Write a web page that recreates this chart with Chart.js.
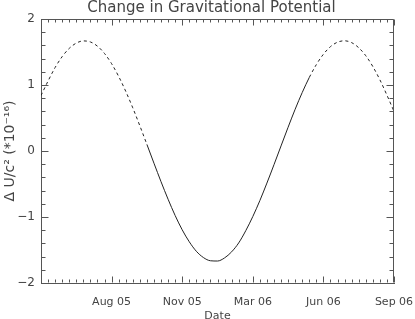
<!DOCTYPE html>
<html><head><meta charset="utf-8">
<script src="https://cdn.jsdelivr.net/npm/chart.js@4/dist/chart.umd.min.js"></script>
<style>html,body{margin:0;padding:0;background:#fff}#wrap{width:415px;height:319px}</style>
</head><body><div id="wrap"><canvas id="c" width="415" height="319"></canvas></div>
<script>
// Days since start of plotted interval
const days = [0,10,20,30,40,50,60,70,80,90,100,110,120,130,140,150,160,170,180,190,200,210,220,230,240,250,260,270,280,290,300,310,320,330,340,350,360,370,380,390,400,410,420,430,440,450,460,470,480,490,500];
// Delta U / c^2 in units of 1e-16
const potential = [0.84,1.06,1.265,1.43,1.555,1.635,1.668,1.652,1.588,1.477,1.323,1.13,0.905,0.654,0.382,0.10,-0.185,-0.465,-0.731,-0.977,-1.194,-1.375,-1.519,-1.614,-1.663,-1.667,-1.62,-1.528,-1.393,-1.208,-0.993,-0.751,-0.486,-0.208,0.077,0.36,0.633,0.886,1.114,1.309,1.466,1.581,1.649,1.67,1.642,1.565,1.444,1.28,1.079,0.846,0.60];
const tickDays = [100,200,300,400,500];
const tickLabels = ['Aug 05','Nov 05','Mar 06','Jun 06','Sep 06'];
const yTicks = [-2,-1,0,1,2];
const solidFrom = 150, solidTo = 380;

const axisColor = '#555';
const textColor = '#444';
const FONT = 'DejaVu Sans';

const inwardTicks = {
  id: 'inwardTicks',
  afterDraw(chart) {
    const {ctx, chartArea: a, scales: {x, y}} = chart;
    ctx.save();
    ctx.strokeStyle = axisColor;
    ctx.lineWidth = 1;
    ctx.beginPath();
    const L = Math.round(a.left) + 0.5, R = Math.round(a.right) - 0.5;
    const T = Math.round(a.top) + 0.5, B = Math.round(a.bottom) - 0.5;
    ctx.moveTo(L, T); ctx.lineTo(R, T); ctx.lineTo(R, B);
    const nx = Math.round((x.max - x.min) / 10);
    for (let i = 0; i <= nx; i++) {
      const v = x.min + i * 10;
      const px = Math.round(x.getPixelForValue(v)) + 0.5;
      const len = (i % 10 === 0) ? 6 : 3;
      ctx.moveTo(px, B); ctx.lineTo(px, B - len);
      ctx.moveTo(px, T); ctx.lineTo(px, T + len);
    }
    const ny = Math.round((y.max - y.min) / 0.2);
    for (let i = 0; i <= ny; i++) {
      const v = y.min + i * 0.2;
      const py = Math.round(y.getPixelForValue(v)) + 0.5;
      const len = (i % 5 === 0) ? 7 : 4;
      ctx.moveTo(L, py); ctx.lineTo(L + len, py);
      ctx.moveTo(R, py); ctx.lineTo(R - len, py);
    }
    ctx.stroke();
    ctx.restore();
  }
};

new Chart(document.getElementById('c'), {
  type: 'line',
  data: {
    datasets: [{
      data: days.map((d, i) => ({x: d, y: potential[i]})),
      borderColor: '#222',
      borderWidth: 1,
      pointRadius: 0,
      cubicInterpolationMode: 'monotone',
      borderDash: [3, 3],
      segment: {
        borderDash: ctx => (ctx.p0.parsed.x >= solidFrom && ctx.p1.parsed.x <= solidTo) ? [] : [3, 3]
      }
    }]
  },
  options: {
    responsive: false,
    animation: false,
    devicePixelRatio: 1,
    layout: {padding: {left: 8, right: 0, top: 0, bottom: 0}},
    plugins: {
      legend: {display: false},
      tooltip: {enabled: false},
      title: {
        display: true,
        text: 'Change in Gravitational Potential',
        color: textColor,
        font: {family: FONT, size: 15, weight: 'normal', lineHeight: 17 / 15},
        padding: {top: 0, bottom: 2}
      }
    },
    scales: {
      x: {
        type: 'linear',
        min: 0, max: 500,
        afterFit: s => { s.height = 36; s.paddingRight = 0; s.paddingLeft = 0; },
        ticks: {
          stepSize: 100,
          color: textColor,
          font: {family: FONT, size: 11},
          padding: 13,
          maxRotation: 0,
          autoSkip: false,
          callback: v => { const i = tickDays.indexOf(v); return i >= 0 ? tickLabels[i] : ''; }
        },
        grid: {display: true, drawOnChartArea: false, drawTicks: false},
        border: {display: true, color: axisColor},
        title: {display: true, text: 'Date', color: textColor, font: {family: FONT, size: 11}, padding: {top: 0, bottom: -4}}
      },
      y: {
        min: -2, max: 2,
        afterFit: s => { s.width = 33; },
        ticks: {
          stepSize: 1,
          color: textColor,
          font: {family: FONT, size: 12},
          padding: 6,
          callback: v => yTicks.includes(v) ? (v < 0 ? '\u2212' + Math.abs(v) : String(v)) : ''
        },
        grid: {display: true, drawOnChartArea: false, drawTicks: false},
        border: {display: true, color: axisColor},
        title: {display: true, text: '\u0394 U/c\u00B2 (*10\u207B\u00B9\u2076)', color: textColor, font: {family: FONT, size: 14}, padding: {top: -6, bottom: 0}}
      },
      yRightMargin: {
        position: 'right',
        display: true,
        afterFit: s => { s.width = 21; },
        ticks: {display: false},
        grid: {display: false},
        border: {display: false}
      }
    }
  },
  plugins: [inwardTicks]
});
</script>
</body></html>
